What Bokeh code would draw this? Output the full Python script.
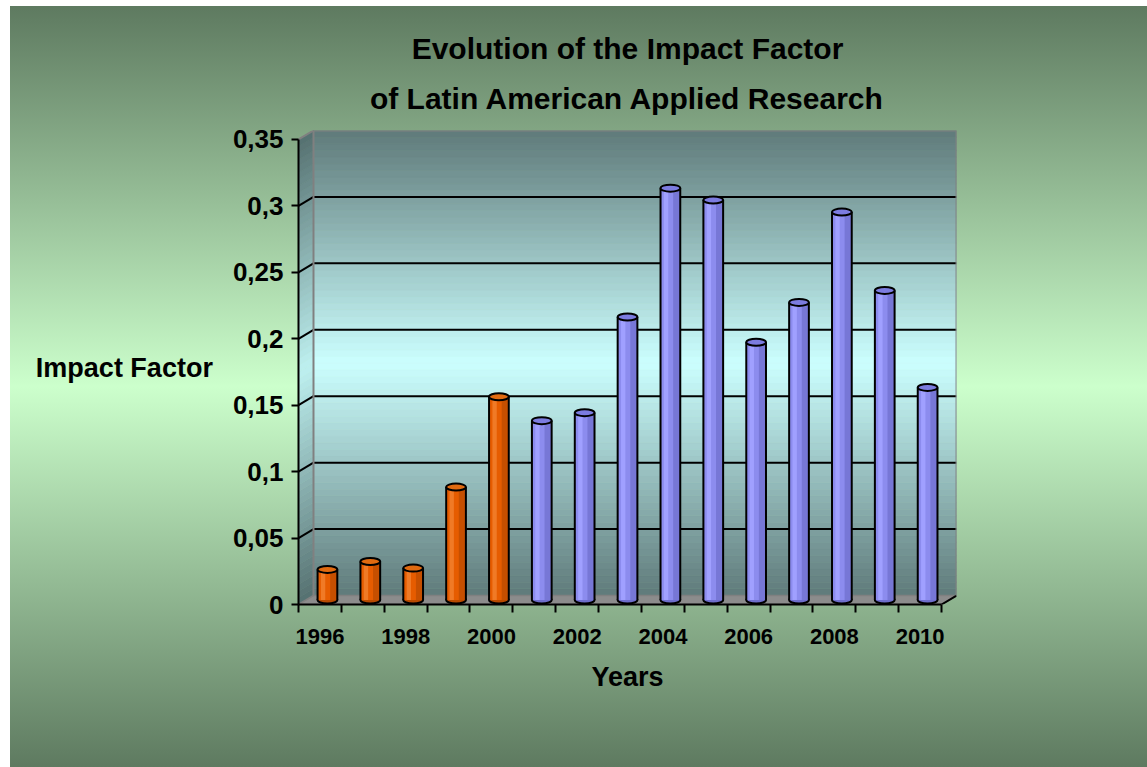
from bokeh.plotting import figure
from bokeh.models import Range1d, FixedTicker, Title
from bokeh.embed import file_html
from bokeh.resources import INLINE

# ---------------- data ----------------
years = [1996, 1997, 1998, 1999, 2000, 2001, 2002, 2003, 2004, 2005, 2006, 2007, 2008, 2009, 2010]
impact = [0.023, 0.029, 0.024, 0.085, 0.153, 0.135, 0.141, 0.213, 0.310, 0.301, 0.194, 0.224, 0.292, 0.233, 0.160]
period = ["early"] * 5 + ["late"] * 10
y_ticks = [0, 0.05, 0.1, 0.15, 0.2, 0.25, 0.3, 0.35]
y_tick_labels = ["0", "0,05", "0,1", "0,15", "0,2", "0,25", "0,3", "0,35"]
x_tick_years = [1996, 1998, 2000, 2002, 2004, 2006, 2008, 2010]
title_lines = ["Evolution of the Impact Factor", "of Latin American Applied Research"]

# ---------------- style ----------------
FONT = "Liberation Sans"
palette = {
    "early": {"base": "#E65C00", "light": "#F07A26", "dark": "#B84A00", "top": "#E06A10"},
    "late": {"base": "#8C8CEE", "light": "#A0A0FF", "dark": "#6E6ECC", "top": "#7C7CE0"},
}

W, H = 1147, 767
X0, X1 = years[0] - 0.5, years[-1] + 0.5
PX_PER_YEAR = 42.87
PX_PER_UNIT = 1328.6
DX = 15 / PX_PER_YEAR          # depth offset (years)
DY = 9 / PX_PER_UNIT           # depth offset (value units)
YMAX = y_ticks[-1]

p = figure(width=W, height=H, output_backend="svg", toolbar_location=None, title=None,
           x_range=Range1d(X0, X0 + 658 / PX_PER_YEAR),
           y_range=Range1d(0, 474 / PX_PER_UNIT),
           min_border_left=298, min_border_right=W - 956, min_border_top=130, min_border_bottom=H - 604)
p.styles = {"background": "linear-gradient(to bottom, #5E7A60 0%, #CCFFCC 50%, #5E7A60 100%) "
                          "10px 6px / calc(100% - 10px) calc(100% - 6px) no-repeat #FFFFFF"}
p.border_fill_alpha = 0
p.background_fill_alpha = 0
p.outline_line_color = None
p.xgrid.visible = False
p.ygrid.visible = False


def lerp_color(c1, c2, t):
    return "#%02x%02x%02x" % tuple(int(round(a + (b - a) * t)) for a, b in zip(c1, c2))


dark_wall = (95, 122, 122)
light_wall = (204, 255, 255)
N = 70
# back wall gradient strips
bottoms, tops, cols = [], [], []
for i in range(N):
    y0 = YMAX * i / N
    y1 = YMAX * (i + 1) / N
    t = 1 - abs((y0 + y1) / 2 / YMAX - 0.5) * 2
    bottoms.append(y0 + DY)
    tops.append(y1 + DY)
    cols.append(lerp_color(dark_wall, light_wall, t))
p.quad(left=X0 + DX, right=X1 + DX, bottom=bottoms, top=tops, fill_color=cols, line_color=cols, line_width=0.5)

# left side wall gradient strips
xs, ys, scol = [], [], []
for i in range(N):
    y0 = YMAX * i / N
    y1 = YMAX * (i + 1) / N
    t = 1 - abs((y0 + y1) / 2 / YMAX - 0.5) * 2
    xs.append([X0, X0 + DX, X0 + DX, X0])
    ys.append([y0, y0 + DY, y1 + DY, y1])
    scol.append(lerp_color((85, 112, 112), (190, 240, 240), t))
p.patches(xs, ys, fill_color=scol, line_color=scol, line_width=0.5)

# floor
p.patch([X0, X1, X1 + DX, X0 + DX], [0, 0, DY, DY], fill_color="#8C8C8C", line_color="#808080", line_width=1.5)
p.segment(x0=[X1], y0=[0], x1=[X1 + DX], y1=[DY], line_color="black", line_width=2)

# gridlines on back wall and side wall
grid_vals = [v for v in y_ticks if 0 < v < YMAX]
p.segment(x0=X0 + DX, x1=X1 + DX, y0=[v + DY for v in grid_vals], y1=[v + DY for v in grid_vals],
          line_color="black", line_width=2)
p.segment(x0=X0, x1=X0 + DX, y0=grid_vals, y1=[v + DY for v in grid_vals], line_color="black", line_width=2)

# wall borders (grey)
p.line([X0 + DX, X0 + DX, X1 + DX, X1 + DX], [DY, YMAX + DY, YMAX + DY, DY], line_color="#808080", line_width=2)
p.line([X0, X0 + DX], [YMAX, YMAX + DY], line_color="#808080", line_width=2)

# ---------------- cylinders ----------------
BW = 0.46
HX, HY = DX / 2, DY / 2
for key in ["early", "late"]:
    c = palette[key]
    xx = [y + HX for y, g in zip(years, period) if g == key]
    vv = [v + HY for v, g in zip(impact, period) if g == key]
    # bottom ellipse
    p.ellipse(x=xx, y=HY, width=BW, height=7, height_units="screen",
              fill_color=c["dark"], line_color="black", line_width=2)
    # body
    p.vbar(x=xx, bottom=HY, top=vv, width=BW, fill_color=c["base"], line_color=None)
    p.vbar(x=[x - BW * 0.22 for x in xx], bottom=HY, top=vv, width=BW * 0.22,
           fill_color=c["light"], line_color=None)
    p.vbar(x=[x + BW * 0.32 for x in xx], bottom=HY, top=vv, width=BW * 0.36,
           fill_color=c["dark"], fill_alpha=0.7, line_color=None)
    # side outlines
    p.segment(x0=[x - BW / 2 for x in xx], x1=[x - BW / 2 for x in xx], y0=HY, y1=vv,
              line_color="black", line_width=2)
    p.segment(x0=[x + BW / 2 for x in xx], x1=[x + BW / 2 for x in xx], y0=HY, y1=vv,
              line_color="black", line_width=2)
    # top ellipse
    p.ellipse(x=xx, y=vv, width=BW, height=7, height_units="screen",
              fill_color=c["top"], line_color="black", line_width=2)

# ---------------- axes ----------------
ya = p.yaxis[0]
ya.ticker = FixedTicker(ticks=y_ticks)
ya.major_label_overrides = {t: s for t, s in zip(y_ticks, y_tick_labels)}
ya.bounds = (0, YMAX)
ya.axis_line_color = "black"
ya.axis_line_width = 2
ya.major_tick_line_color = "black"
ya.major_tick_line_width = 2
ya.major_tick_out = 7
ya.major_tick_in = 0
ya.minor_tick_line_color = None
ya.major_label_text_font = FONT
ya.major_label_text_font_style = "bold"
ya.major_label_text_font_size = "26px"
ya.major_label_text_color = "black"
ya.major_label_standoff = 8
ya.axis_label = "Impact Factor"
ya.axis_label_orientation = "horizontal"
ya.axis_label_text_font = FONT
ya.axis_label_text_font_style = "bold"
ya.axis_label_text_font_size = "27px"
ya.axis_label_text_color = "black"
ya.axis_label_standoff = 17

xa = p.xaxis[0]
xa.ticker = FixedTicker(ticks=x_tick_years, minor_ticks=[y - 0.5 for y in years] + [years[-1] + 0.5])
xa.bounds = (X0, X1)
xa.axis_line_color = "black"
xa.axis_line_width = 2
xa.major_tick_line_color = None
xa.major_tick_out = 0
xa.major_tick_in = 0
xa.minor_tick_line_color = "black"
xa.minor_tick_line_width = 2
xa.minor_tick_out = 8
xa.minor_tick_in = 0
xa.major_label_text_font = FONT
xa.major_label_text_font_style = "bold"
xa.major_label_text_font_size = "22px"
xa.major_label_text_color = "black"
xa.major_label_standoff = 16
xa.axis_label = "Years"
xa.axis_label_text_font = FONT
xa.axis_label_text_font_style = "bold"
xa.axis_label_text_font_size = "27px"
xa.axis_label_text_color = "black"
xa.axis_label_standoff = 15

# ---------------- titles ----------------
p.add_layout(Title(text=title_lines[1], align="center", text_font=FONT, text_font_style="bold",
                   text_font_size="30px", text_color="black", standoff=31), "above")
p.add_layout(Title(text=title_lines[0], align="center", text_font=FONT, text_font_style="bold",
                   text_font_size="30px", text_color="black", standoff=0), "above")

open("out.html", "w").write(file_html(p, INLINE))
